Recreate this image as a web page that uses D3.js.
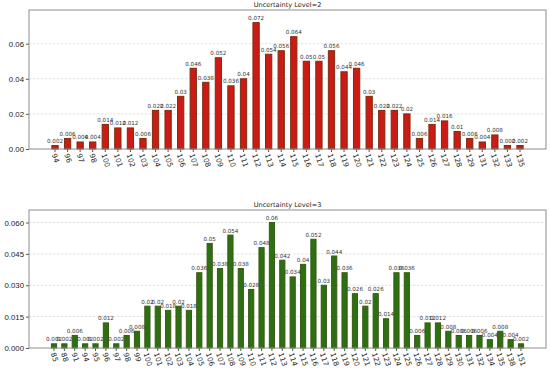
<!DOCTYPE html>
<html>
<head>
<meta charset="utf-8">
<script src="https://d3js.org/d3.v7.min.js"></script>
<style>
  body { margin: 0; background: #fff; }
  svg { display: block; font-family: "DejaVu Sans", sans-serif; }
</style>
</head>
<body>
<div id="chart"></div>
<script>
// Uncertainty Level=2
const level2Labels = ['94', '96', '97', '98', '100', '101', '102', '103', '104', '105', '106', '107', '108', '109', '110',
  '111', '112', '113', '114', '115', '116', '117', '118', '119', '120', '121', '122', '123', '124', '125', '126', '127',
  '128', '129', '131', '132', '133', '135'];
const level2Values = [0.002, 0.006, 0.004, 0.004, 0.014, 0.012, 0.012, 0.006, 0.022, 0.022, 0.03, 0.046, 0.038, 0.052, 0.036,
  0.04, 0.072, 0.054, 0.056, 0.064, 0.05, 0.05, 0.056, 0.044, 0.046, 0.03, 0.022, 0.022, 0.02, 0.006, 0.014, 0.016,
  0.01, 0.006, 0.004, 0.008, 0.002, 0.002];
const level2Ticks = [0, 0.02, 0.04, 0.06];

// Uncertainty Level=3
const level3Labels = ['85', '88', '91', '94', '95', '96', '97', '98', '99', '100', '101', '102', '103', '104', '105', '106',
  '107', '108', '109', '110', '111', '112', '113', '114', '115', '116', '117', '118', '119', '120', '121', '122', '123',
  '124', '125', '126', '127', '128', '129', '130', '131', '132', '134', '135', '138', '151'];
const level3Values = [0.002, 0.002, 0.006, 0.002, 0.002, 0.012, 0.002, 0.006, 0.008, 0.02, 0.02, 0.018, 0.02, 0.018, 0.036, 0.05,
  0.038, 0.054, 0.038, 0.028, 0.048, 0.06, 0.042, 0.034, 0.04, 0.052, 0.03, 0.044, 0.036, 0.026, 0.02, 0.026, 0.014,
  0.036, 0.036, 0.006, 0.012, 0.012, 0.008, 0.006, 0.006, 0.006, 0.004, 0.008, 0.004, 0.002];
const level3Ticks = [0, 0.015, 0.03, 0.045, 0.06];

const svgWidth = 550;
const svgHeight = 370;

const svg = d3.select('#chart').append('svg')
  .attr('width', svgWidth)
  .attr('height', svgHeight);

function drawPanel(opts) {
  const labels = opts.labels;
  const values = opts.values;
  const data = labels.map((l, i) => ({ label: l, value: values[i] }));

  const xScale = d3.scaleBand()
    .domain(labels)
    .range([opts.left, opts.right])
    .paddingInner(0.5)
    .paddingOuter(opts.outer);

  const yScale = d3.scaleLinear()
    .domain([0, d3.max(values) * 1.1])
    .range([opts.bottom, opts.top]);

  const g = svg.append('g');

  // grid
  g.selectAll('.grid')
    .data(opts.ticks.filter(t => t > 0))
    .enter()
    .append('line')
    .attr('x1', opts.left)
    .attr('x2', opts.right)
    .attr('y1', d => yScale(d))
    .attr('y2', d => yScale(d))
    .attr('stroke', '#d9d9d9')
    .attr('stroke-width', 0.8)
    .attr('stroke-dasharray', '2.5,1.5');

  // bars
  g.selectAll('.bar')
    .data(data)
    .enter()
    .append('rect')
    .attr('x', d => xScale(d.label))
    .attr('y', d => yScale(d.value))
    .attr('width', xScale.bandwidth())
    .attr('height', d => yScale(0) - yScale(d.value))
    .attr('fill', opts.fill)
    .attr('stroke', opts.edge)
    .attr('stroke-width', 1);

  // value labels
  g.selectAll('.val')
    .data(data)
    .enter()
    .append('text')
    .attr('x', d => xScale(d.label) + xScale.bandwidth() / 2)
    .attr('y', d => yScale(d.value) - 2.5)
    .attr('text-anchor', 'middle')
    .attr('font-size', '5.6px')
    .attr('fill', '#333')
    .text(d => d.value);

  // y axis
  const yAxis = g.append('g')
    .attr('transform', `translate(${opts.left},0)`)
    .call(d3.axisLeft(yScale).tickValues(opts.ticks).tickFormat(opts.format).tickSize(3).tickPadding(2));
  yAxis.select('.domain').remove();
  yAxis.selectAll('line').attr('stroke', '#555');
  yAxis.selectAll('text').attr('font-size', '7.8px').attr('fill', '#222');

  // x axis
  const xAxis = g.append('g')
    .attr('transform', `translate(0,${opts.bottom})`)
    .call(d3.axisBottom(xScale).tickSize(3).tickFormat(''));
  xAxis.select('.domain').remove();
  xAxis.selectAll('line').attr('stroke', '#555');

  const angle = 72;
  const rad = angle * Math.PI / 180;
  g.selectAll('.xlab')
    .data(labels)
    .enter()
    .append('text')
    .attr('font-size', '7.2px')
    .attr('fill', '#222')
    .attr('dominant-baseline', 'middle')
    .text(d => d)
    .attr('transform', function(d) {
      const len = this.getComputedTextLength();
      const cx = xScale(d) + xScale.bandwidth() / 2;
      return `translate(${cx - len * Math.cos(rad) / 2},${opts.bottom + 5}) rotate(${angle})`;
    });

  // frame
  g.append('rect')
    .attr('x', opts.left)
    .attr('y', opts.top)
    .attr('width', opts.right - opts.left)
    .attr('height', opts.bottom - opts.top)
    .attr('fill', 'none')
    .attr('stroke', '#8c8c8c')
    .attr('stroke-width', 1);

  // title
  g.append('text')
    .attr('x', (opts.left + opts.right) / 2)
    .attr('y', opts.top - 3)
    .attr('text-anchor', 'middle')
    .attr('font-size', '6.6px')
    .attr('fill', '#222')
    .text(opts.title);
}

drawPanel({
  labels: level2Labels,
  values: level2Values,
  ticks: level2Ticks,
  format: d3.format('.2f'),
  title: 'Uncertainty Level=2',
  left: 29, right: 546, top: 10, bottom: 149,
  outer: 1.82,
  fill: '#cc1a14',
  edge: '#7a2f10'
});

drawPanel({
  labels: level3Labels,
  values: level3Values,
  ticks: level3Ticks,
  format: d3.format('.3f'),
  title: 'Uncertainty Level=3',
  left: 29, right: 546, top: 210, bottom: 348,
  outer: 2.16,
  fill: '#2c7012',
  edge: '#3b5a14'
});
</script>
</body>
</html>
